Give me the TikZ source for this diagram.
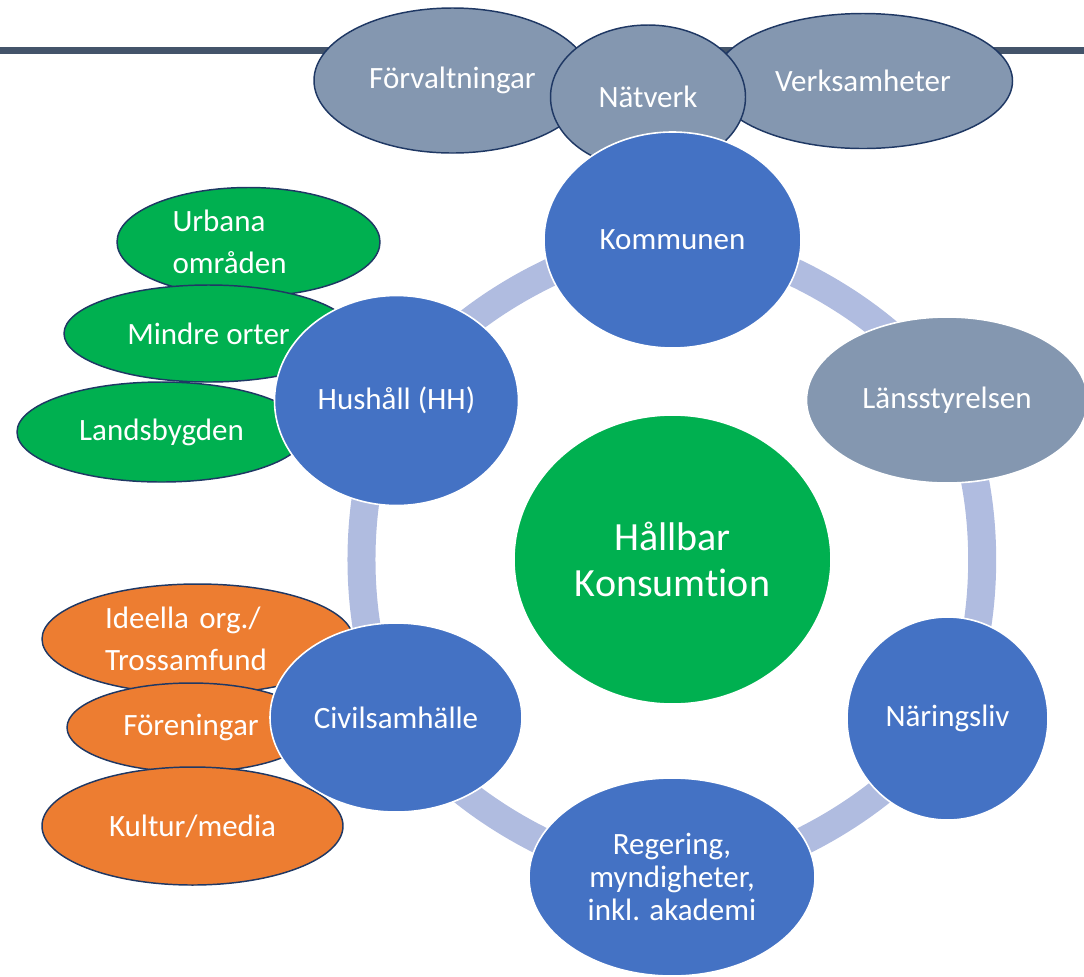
\documentclass[tikz,border=0pt]{standalone}
\usepackage{fontspec}
\setmainfont[Ligatures=NoCommon]{Carlito}
\usepackage{tikz}
\usetikzlibrary{shapes.geometric, positioning, backgrounds}
\definecolor{cycleblue}{HTML}{4472C4}
\definecolor{slategrey}{HTML}{8497B0}
\definecolor{hubgreen}{HTML}{00B050}
\definecolor{orgorange}{HTML}{ED7D31}
\definecolor{ringblue}{HTML}{B0BCE0}
\definecolor{edgenavy}{HTML}{1F3864}
\definecolor{barslate}{HTML}{44546A}

\begin{document}
\begin{tikzpicture}[x=0.75pt, y=-0.75pt]
\tikzset{
  base node/.style={ellipse, inner sep=0pt, text=white, align=center,
    font=\fontsize{23.25}{25}\selectfont},
  cycle node/.style={base node, draw=white, line width=1.2pt},
  outer node/.style={base node, draw=edgenavy, line width=1.1pt,
    font=\fontsize{23.25}{32}\selectfont},
  ring arc/.style={draw=ringblue, line width=21pt},
}
\useasboundingbox (0,0) rectangle (1084,976);

\draw[barslate, line width=5.25pt] (0,50) -- (1084,50);

% top row
\node[outer node, fill=slategrey, minimum width=207.75pt, minimum height=108.75pt] (forv) at (452.5,80.5) {Förvaltningar};
\node[outer node, fill=slategrey, minimum width=224.25pt, minimum height=101.25pt] (verk) at (863,81) {Verksamheter};
\node[outer node, fill=slategrey, minimum width=146.25pt, minimum height=108pt] (natv) at (648,97) {Nätverk};
\node[cycle node, fill=cycleblue, minimum width=192.75pt, minimum height=162pt] (kommunen) at (672.5,240) {Kommunen};

% households
\node[outer node, fill=hubgreen, minimum width=197.25pt, minimum height=81.75pt, text width=114pt, align=left] (urbana) at (248.5,242) {Urbana\\områden};
\node[outer node, fill=hubgreen, minimum width=216.75pt, minimum height=72.75pt] (mindre) at (208.5,333.5) {Mindre orter};
\node[outer node, fill=hubgreen, minimum width=216.75pt, minimum height=75pt] (lands) at (161.5,432) {Landsbygden};
\node[cycle node, fill=cycleblue, minimum width=183pt, minimum height=157.5pt] (hushall) at (396.5,400.5) {Hushåll (HH)};

% civil society
\node[outer node, fill=orgorange, minimum width=233.25pt, minimum height=82.5pt, text width=138.75pt, align=left] (ideella) at (197.5,639) {Ideella org./\\Trossamfund};
\node[outer node, fill=orgorange, minimum width=186pt, minimum height=66.75pt] (foren) at (191,727.5) {Föreningar};
\node[outer node, fill=orgorange, minimum width=225.75pt, minimum height=88.5pt] (kultur) at (192.5,826) {Kultur/media};
\node[cycle node, fill=cycleblue, minimum width=189pt, minimum height=141.75pt] (civil) at (396,717.5) {Civilsamhälle};

% right and bottom
\node[cycle node, fill=slategrey, minimum width=210.75pt, minimum height=124.5pt] (lans) at (947,400) {Länsstyrelsen};
\node[cycle node, fill=cycleblue, minimum width=150.75pt, minimum height=152.25pt] (naring) at (947.5,718.5) {Näringsliv};
\node[cycle node, fill=cycleblue, minimum width=214.5pt, minimum height=148.5pt] (regering) at (672,877) {Regering,\\myndigheter,\\inkl. akademi};

\node[cycle node, fill=hubgreen, minimum width=237.75pt, minimum height=216.75pt,
  font=\fontsize{30}{34.5}\selectfont] (hub) at (672.5,559.5) {Hållbar\\Konsumtion};

\begin{scope}[on background layer]
\foreach \a/\b in {kommunen/lans, lans/naring, naring/regering, regering/civil, civil/hushall, hushall/kommunen}
  \draw[ring arc] (\a.center) to[bend left=30, looseness=.75] (\b.center);
\end{scope}

\end{tikzpicture}
\end{document}
